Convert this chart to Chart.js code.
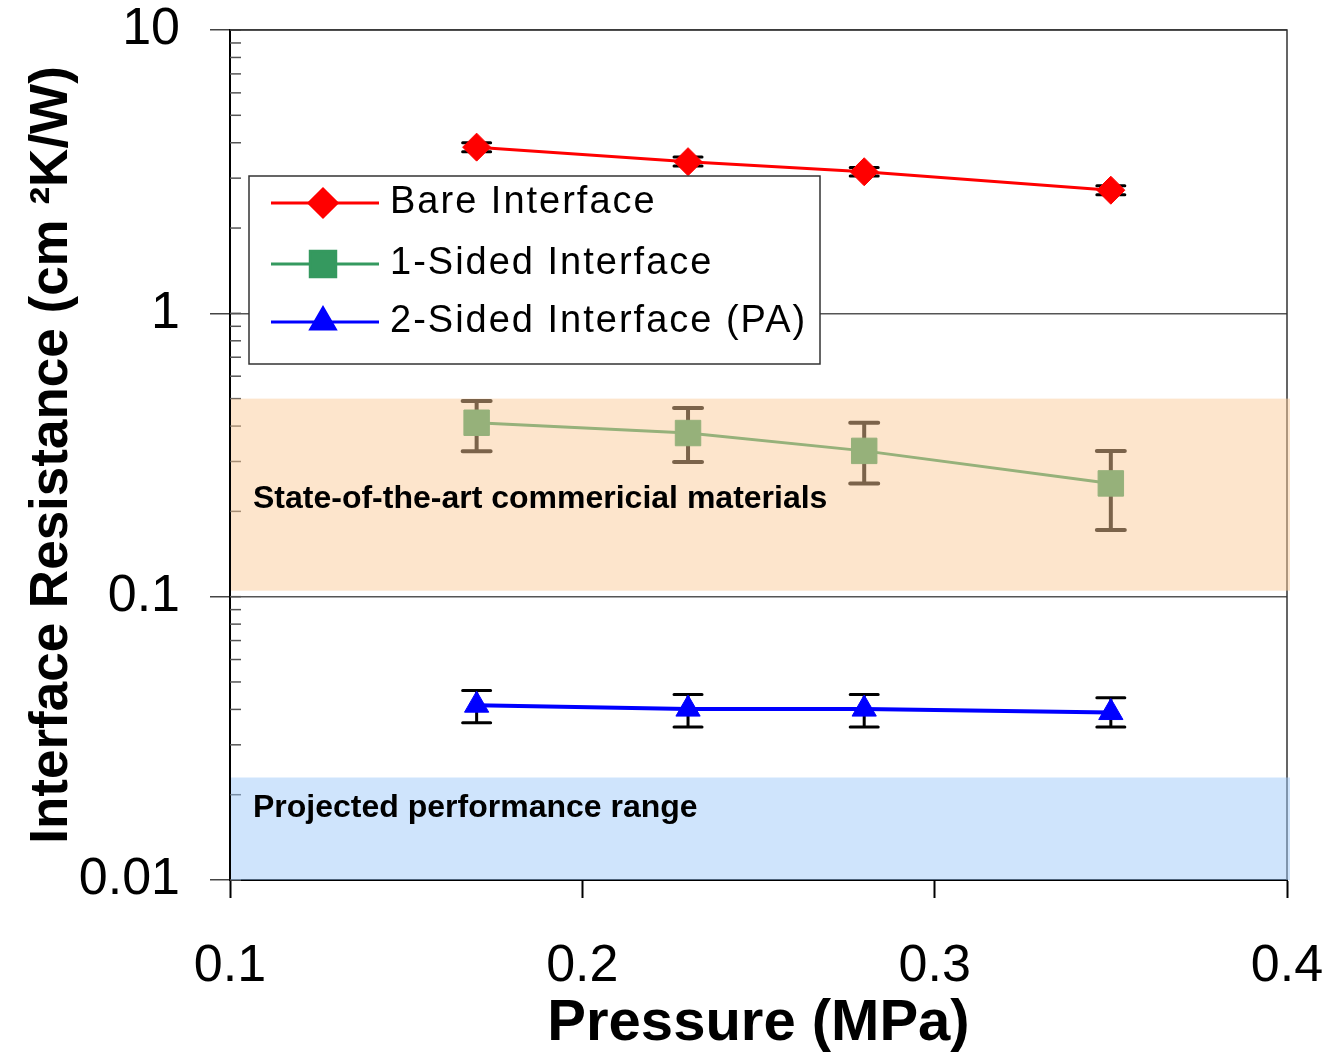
<!DOCTYPE html>
<html>
<head>
<meta charset="utf-8">
<script src="https://cdn.jsdelivr.net/npm/chart.js@4/dist/chart.umd.min.js"></script>
<style>
  html, body { margin: 0; padding: 0; background: #fff; }
  canvas { display: block; }
</style>
</head>
<body>
<canvas id="chart" width="1328" height="1053"></canvas>
<script>
// data
const pressure = [0.17, 0.23, 0.28, 0.35];

const bare = [3.86, 3.43, 3.16, 2.72];
const bareLow = [3.72, 3.31, 3.05, 2.62];
const bareHigh = [4.0, 3.56, 3.27, 2.82];

const oneSided = [0.411, 0.378, 0.327, 0.251];
const oneLow = [0.326, 0.299, 0.251, 0.172];
const oneHigh = [0.49, 0.463, 0.411, 0.327];

const twoSided = [0.0414, 0.0401, 0.0401, 0.039];
const twoLow = [0.0359, 0.0347, 0.0347, 0.0347];
const twoHigh = [0.0466, 0.0452, 0.0452, 0.044];

const seriesNames = ["Bare Interface", "1-Sided Interface", "2-Sided Interface (PA)"];

const xTickValues = [0.1, 0.2, 0.3, 0.4];
const xTickLabels = ["0.1", "0.2", "0.3", "0.4"];
const yTickValues = [0.01, 0.1, 1, 10];
const yTickLabels = ["0.01", "0.1", "1", "10"];

// shaded ranges
const bandNames = ["State-of-the-art commericial materials", "Projected performance range"];
const bandLow = [0.105, 0.01];
const bandHigh = [0.5, 0.023];
const bandTextAt = [0.221, 0.018];
const bandColors = ["rgba(251,202,151,0.49)", "rgba(157,200,249,0.49)"];

const FONT = "'Liberation Sans', Arial, sans-serif";

// minor tick positions for the log axis
let yGridValues = [];
for (let d = 0.01; d < 5; d *= 10) {
  for (let m = 1; m < 10; m++) yGridValues.push(+(m * d).toPrecision(3));
}
yGridValues.push(10);

function isDecade(v) {
  let l = Math.log10(v);
  return Math.abs(l - Math.round(l)) < 1e-6;
}

function points(ys) {
  return pressure.map((p, i) => ({ x: p, y: ys[i] }));
}

const errorBars = {
  id: "errorBars",
  beforeDatasetsDraw(chart) {
    const { ctx, chartArea, scales } = chart;
    const x = scales.x, y = scales.y;
    // small inside ticks on the y axis
    ctx.save();
    ctx.strokeStyle = "#555";
    ctx.lineWidth = 1.5;
    yGridValues.forEach((v) => {
      let py = y.getPixelForValue(v);
      ctx.beginPath();
      ctx.moveTo(chartArea.left, py);
      ctx.lineTo(chartArea.left + 11, py);
      ctx.stroke();
    });
    // top and right frame
    ctx.strokeStyle = "#333";
    ctx.beginPath();
    ctx.moveTo(chartArea.left, chartArea.top);
    ctx.lineTo(chartArea.right, chartArea.top);
    ctx.lineTo(chartArea.right, chartArea.bottom);
    ctx.stroke();
    ctx.restore();

    chart.data.datasets.forEach((ds) => {
      ctx.save();
      ctx.strokeStyle = "#000";
      ctx.lineWidth = ds.errWidth;
      ctx.lineCap = "round";
      ds.data.forEach((p, i) => {
        let px = x.getPixelForValue(p.x);
        let lo = y.getPixelForValue(ds.errLow[i]);
        let hi = y.getPixelForValue(ds.errHigh[i]);
        ctx.beginPath();
        ctx.moveTo(px, lo);
        ctx.lineTo(px, hi);
        ctx.moveTo(px - 14, lo);
        ctx.lineTo(px + 14, lo);
        ctx.moveTo(px - 14, hi);
        ctx.lineTo(px + 14, hi);
        ctx.stroke();
      });
      ctx.restore();
    });
  },
  afterDatasetsDraw(chart) {
    const { ctx, chartArea, scales } = chart;
    const y = scales.y;
    ctx.save();
    bandNames.forEach((name, i) => {
      let top = y.getPixelForValue(bandHigh[i]);
      let bottom = y.getPixelForValue(bandLow[i]);
      ctx.fillStyle = bandColors[i];
      ctx.fillRect(chartArea.left + 1, top, chartArea.right + 3 - chartArea.left - 1, bottom - top);
    });
    ctx.fillStyle = "#000";
    ctx.font = "bold 32px " + FONT;
    ctx.textBaseline = "middle";
    ctx.textAlign = "left";
    bandNames.forEach((name, i) => {
      ctx.fillText(name, chartArea.left + 23, y.getPixelForValue(bandTextAt[i]));
    });
    ctx.restore();
  },
  afterDraw(chart) {
    const { ctx, chartArea } = chart;
    let bx = chartArea.left + 19, by = chartArea.top + 146;
    ctx.save();
    ctx.fillStyle = "#fff";
    ctx.strokeStyle = "#333";
    ctx.lineWidth = 1.5;
    ctx.fillRect(bx, by, 571, 188);
    ctx.strokeRect(bx, by, 571, 188);
    let rows = [27, 88, 146];
    chart.data.datasets.forEach((ds, i) => {
      let ry = by + rows[i];
      ctx.strokeStyle = ds.legendColor;
      ctx.lineWidth = 3;
      ctx.beginPath();
      ctx.moveTo(bx + 22, ry);
      ctx.lineTo(bx + 130, ry);
      ctx.stroke();
      ctx.fillStyle = ds.legendColor;
      ctx.strokeStyle = ds.legendColor;
      Chart.helpers.drawPoint(ctx, {
        pointStyle: ds.pointStyle,
        radius: ds.pointRadius,
        rotation: 0,
        borderWidth: 1,
      }, bx + 74, ry);
      ctx.fillStyle = "#000";
      ctx.font = "38px " + FONT;
      ctx.letterSpacing = "2px";
      ctx.textBaseline = "middle";
      ctx.textAlign = "left";
      ctx.fillText(seriesNames[i], bx + 141, ry);
      ctx.letterSpacing = "0px";
    });
    ctx.restore();
  },
};

new Chart(document.getElementById("chart"), {
  type: "scatter",
  data: {
    datasets: [
      {
        label: seriesNames[0],
        data: points(bare),
        errLow: bareLow,
        errHigh: bareHigh,
        errWidth: 3,
        legendColor: "#ff0000",
        showLine: true,
        borderColor: "#ff0000",
        backgroundColor: "#ff0000",
        borderWidth: 3,
        pointStyle: "rectRot",
        pointRadius: 14,
        pointBorderWidth: 1,
      },
      {
        label: seriesNames[1],
        data: points(oneSided),
        errLow: oneLow,
        errHigh: oneHigh,
        errWidth: 4,
        legendColor: "#35995f",
        showLine: true,
        borderColor: "#35995f",
        backgroundColor: "#35995f",
        borderWidth: 3,
        pointStyle: "rect",
        pointRadius: 18,
        pointBorderWidth: 1,
      },
      {
        label: seriesNames[2],
        data: points(twoSided),
        errLow: twoLow,
        errHigh: twoHigh,
        errWidth: 3,
        legendColor: "#0000ff",
        showLine: true,
        borderColor: "#0000ff",
        backgroundColor: "#0000ff",
        borderWidth: 4,
        pointStyle: "triangle",
        pointRadius: 14,
        pointBorderWidth: 1,
      },
    ],
  },
  options: {
    responsive: false,
    animation: false,
    layout: { padding: { top: 30, right: 41, left: 0, bottom: 0 } },
    plugins: {
      legend: { display: false },
      tooltip: { enabled: false },
    },
    scales: {
      x: {
        type: "linear",
        min: 0.1,
        max: 0.4,
        afterBuildTicks: (axis) => {
          axis.ticks = xTickValues.map((v) => ({ value: v }));
        },
        afterFit: (axis) => {
          axis.height = 173;
          axis.paddingLeft = 0;
          axis.paddingRight = 0;
        },
        ticks: {
          color: "#000",
          font: { family: FONT, size: 52, lineHeight: 1 },
          padding: 43,
          maxRotation: 0,
          autoSkip: false,
          callback: (v) => {
            let i = xTickValues.findIndex((t) => Math.abs(t - v) < 1e-6);
            return i >= 0 ? xTickLabels[i] : "";
          },
        },
        grid: { drawOnChartArea: false, tickLength: 18, tickColor: "#000", tickWidth: 2 },
        border: { color: "#000", width: 2 },
        title: {
          display: true,
          text: "Pressure (MPa)",
          color: "#000",
          font: { family: FONT, size: 58, weight: "bold", lineHeight: 1 },
          padding: { top: 0, bottom: 0 },
        },
      },
      y: {
        type: "logarithmic",
        min: 0.01,
        max: 10,
        afterBuildTicks: (axis) => {
          axis.ticks = yGridValues.map((v) => ({ value: v }));
        },
        afterFit: (axis) => {
          axis.width = 230;
          axis.paddingTop = 0;
          axis.paddingBottom = 0;
        },
        ticks: {
          color: "#000",
          font: { family: FONT, size: 52, lineHeight: 1 },
          padding: 30,
          autoSkip: false,
          callback: (v) => {
            let i = yTickValues.findIndex((t) => Math.abs(Math.log10(t) - Math.log10(v)) < 1e-6);
            return i >= 0 ? yTickLabels[i] : "";
          },
        },
        grid: {
          tickLength: 20,
          lineWidth: 1.5,
          tickWidth: 1.5,
          color: (c) => (c.tick && isDecade(c.tick.value) ? "#555" : "rgba(0,0,0,0)"),
          tickColor: (c) => (c.tick && isDecade(c.tick.value) ? "#444" : "rgba(0,0,0,0)"),
        },
        border: { color: "#000", width: 2 },
        title: {
          display: true,
          text: "Interface Resistance (cm \u00B2K/W)",
          color: "#000",
          font: { family: FONT, size: 53, weight: "bold", lineHeight: 1.2 },
          padding: { top: 21, bottom: 0 },
        },
      },
    },
  },
  plugins: [errorBars],
});
</script>
</body>
</html>
